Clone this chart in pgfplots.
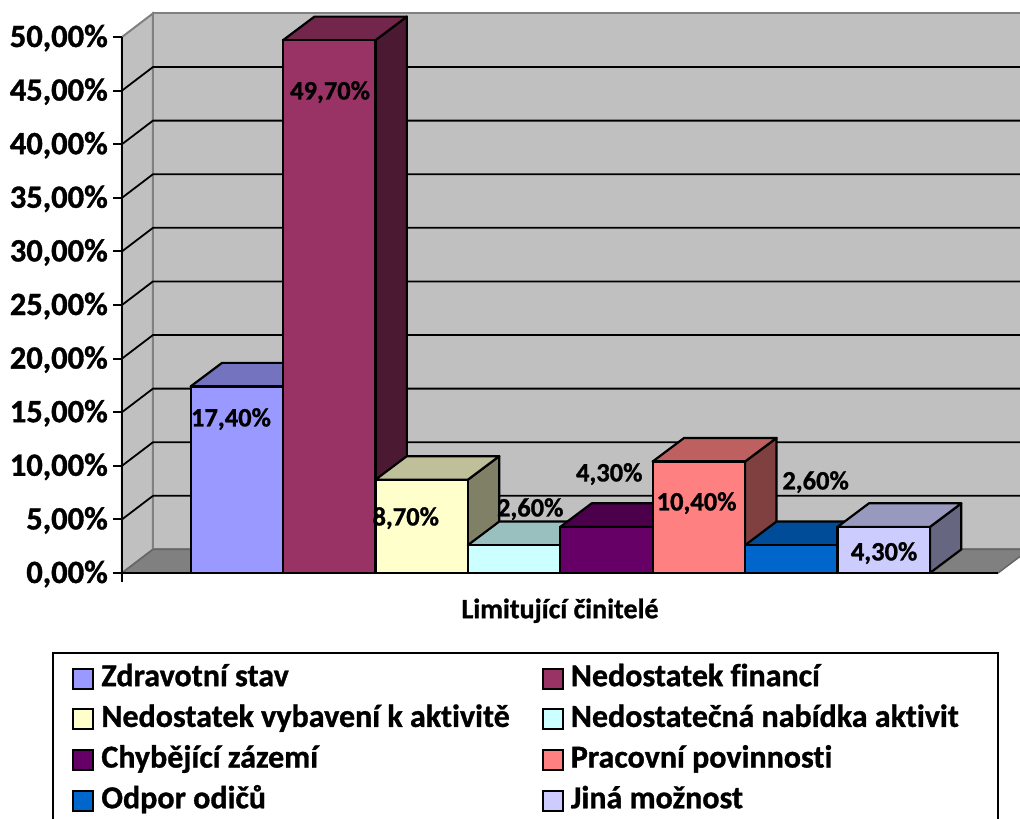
\documentclass[border=0pt]{standalone}
\usepackage{fontspec}
\setmainfont{Carlito}[Ligatures=NoCommon,BoldFeatures={FakeBold=1}]
\usepackage{pgfplots}
\pgfplotsset{compat=1.18}
\definecolor{wall}{RGB}{192,192,192}
\definecolor{floorc}{RGB}{128,128,128}
\definecolor{ca}{RGB}{153,153,255}
\definecolor{cb}{RGB}{153,51,102}
\definecolor{cc}{RGB}{255,255,204}
\definecolor{cd}{RGB}{204,255,255}
\definecolor{ce}{RGB}{102,0,102}
\definecolor{cf}{RGB}{255,128,128}
\definecolor{cg}{RGB}{0,102,204}
\definecolor{ch}{RGB}{204,204,255}
\pgfplotsset{
  frontbar/.style={ybar,bar width=92.4pt,bar shift=0pt,fill=#1,draw=black,line width=2.2pt},
  topface/.style={forget plot,fill=#1!75!black,draw=black,line width=2.2pt,line join=round},
  sideface/.style={forget plot,fill=#1!50!black,draw=black,line width=2.2pt,line join=round},
  gridl/.style={forget plot,draw=black,line width=1.8pt},
}
\begin{document}
\begin{tikzpicture}
\path[use as bounding box,clip] (0,0) rectangle (1020pt,819pt);
\begin{axis}[
  at={(122pt,246pt)},anchor=south west,
  scale only axis,width=876pt,height=536pt,
  xmin=-1.2424,xmax=8.2367,ymin=0,ymax=50,
  clip=false,axis on top,
  axis x line*=bottom,axis y line*=left,
  axis line style={line width=2pt,-},
  xtick={-1.2424},xticklabels={},
  ytick={0,5,...,50},
  tick style={black,line width=2pt},
  major tick length=9pt,
  tick align=outside,
  yticklabel={\pgfmathprintnumber[fixed,fixed zerofill,precision=2,use comma,assume math mode=true]{\tick}\%},
  tick label style={font=\fontsize{32.5}{34}\selectfont\bfseries},
  yticklabel style={inner sep=0pt,xshift=-5pt,yshift=-1pt},
  xlabel={Limitující činitelé},
  xlabel style={at={(axis description cs:0.5,-0.0705)},anchor=center,font=\fontsize{28}{30}\selectfont\bfseries},
  legend columns=2,
  legend style={at={(axis description cs:-0.0571,-0.1716)},anchor=north west,draw=none,fill=none,inner sep=0pt,
    font=\fontsize{32}{32}\selectfont\bfseries,
    nodes={inner sep=0pt,text height=21pt,text depth=6pt},
    row sep=13.7pt,
    /tikz/every odd column/.append style={column sep=7pt},
    /tikz/every even column/.append style={column sep=32pt}},
  legend cell align=left,
  legend image code/.code={\draw[#1,line width=2.2pt] (0pt,-10pt) rectangle (20pt,10pt);},
]
% walls and floor
\addplot[forget plot,fill=wall,draw=floorc,line width=2pt] coordinates {(-1.2424,0) (-0.907,2.2) (-0.907,52.2) (-1.2424,50)} --cycle;
\addplot[forget plot,fill=wall,draw=floorc,line width=2pt] coordinates {(-0.907,2.2) (9,2.2) (9,52.2) (-0.907,52.2)} --cycle;
\addplot[forget plot,fill=floorc,draw=floorc!80!black,line width=1.5pt] coordinates {(-1.2424,0) (8.2367,0) (8.5767,2.2) (-0.907,2.2)} --cycle;
% gridlines on walls
\addplot[gridl] coordinates {(-1.2424,5) (-0.907,7.2) (9,7.2)};
\addplot[gridl] coordinates {(-1.2424,10) (-0.907,12.2) (9,12.2)};
\addplot[gridl] coordinates {(-1.2424,15) (-0.907,17.2) (9,17.2)};
\addplot[gridl] coordinates {(-1.2424,20) (-0.907,22.2) (9,22.2)};
\addplot[gridl] coordinates {(-1.2424,25) (-0.907,27.2) (9,27.2)};
\addplot[gridl] coordinates {(-1.2424,30) (-0.907,32.2) (9,32.2)};
\addplot[gridl] coordinates {(-1.2424,35) (-0.907,37.2) (9,37.2)};
\addplot[gridl] coordinates {(-1.2424,40) (-0.907,42.2) (9,42.2)};
\addplot[gridl] coordinates {(-1.2424,45) (-0.907,47.2) (9,47.2)};
% bar 0
\addplot[sideface=ca] coordinates {(0.5,0) (0.5,17.4) (0.84,19.6) (0.84,2.2)} --cycle;
\addplot[topface=ca] coordinates {(-0.5,17.4) (0.5,17.4) (0.84,19.6) (-0.16,19.6)} --cycle;
\addplot[frontbar=ca] coordinates {(0,17.4)};
\addlegendentry{Zdravotní stav}
% bar 1
\addplot[sideface=cb] coordinates {(1.5,0) (1.5,49.7) (1.84,51.9) (1.84,2.2)} --cycle;
\addplot[topface=cb] coordinates {(0.5,49.7) (1.5,49.7) (1.84,51.9) (0.84,51.9)} --cycle;
\addplot[frontbar=cb] coordinates {(1,49.7)};
\addlegendentry{Nedostatek financí}
% bar 2
\addplot[sideface=cc] coordinates {(2.5,0) (2.5,8.7) (2.84,10.9) (2.84,2.2)} --cycle;
\addplot[topface=cc] coordinates {(1.5,8.7) (2.5,8.7) (2.84,10.9) (1.84,10.9)} --cycle;
\addplot[frontbar=cc] coordinates {(2,8.7)};
\addlegendentry{Nedostatek vybavení k aktivitě}
% bar 3
\addplot[sideface=cd] coordinates {(3.5,0) (3.5,2.6) (3.84,4.8) (3.84,2.2)} --cycle;
\addplot[topface=cd] coordinates {(2.5,2.6) (3.5,2.6) (3.84,4.8) (2.84,4.8)} --cycle;
\addplot[frontbar=cd] coordinates {(3,2.6)};
\addlegendentry{Nedostatečná nabídka aktivit}
% bar 4
\addplot[sideface=ce] coordinates {(4.5,0) (4.5,4.3) (4.84,6.5) (4.84,2.2)} --cycle;
\addplot[topface=ce] coordinates {(3.5,4.3) (4.5,4.3) (4.84,6.5) (3.84,6.5)} --cycle;
\addplot[frontbar=ce] coordinates {(4,4.3)};
\addlegendentry{Chybějící zázemí}
% bar 5
\addplot[sideface=cf] coordinates {(5.5,0) (5.5,10.4) (5.84,12.6) (5.84,2.2)} --cycle;
\addplot[topface=cf] coordinates {(4.5,10.4) (5.5,10.4) (5.84,12.6) (4.84,12.6)} --cycle;
\addplot[frontbar=cf] coordinates {(5,10.4)};
\addlegendentry{Pracovní povinnosti}
% bar 6
\addplot[sideface=cg] coordinates {(6.5,0) (6.5,2.6) (6.84,4.8) (6.84,2.2)} --cycle;
\addplot[topface=cg] coordinates {(5.5,2.6) (6.5,2.6) (6.84,4.8) (5.84,4.8)} --cycle;
\addplot[frontbar=cg] coordinates {(6,2.6)};
\addlegendentry{Odpor odičů}
% bar 7
\addplot[sideface=ch] coordinates {(7.5,0) (7.5,4.3) (7.84,6.5) (7.84,2.2)} --cycle;
\addplot[topface=ch] coordinates {(6.5,4.3) (7.5,4.3) (7.84,6.5) (6.84,6.5)} --cycle;
\addplot[frontbar=ch] coordinates {(7,4.3)};
\addlegendentry{Jiná možnost}
% data labels
\begin{scope}[every node/.style={font=\fontsize{26.5}{28}\selectfont\bfseries,inner sep=0pt}]
\node at (axis cs:-0.063,14.36) {17,40\%};
\node at (axis cs:1.009,44.86) {49,70\%};
\node at (axis cs:1.828,5.12) {8,70\%};
\node at (axis cs:3.175,5.96) {2,60\%};
\node at (axis cs:4.03,9.23) {4,30\%};
\node at (axis cs:4.975,6.52) {10,40\%};
\node at (axis cs:6.263,8.48) {2,60\%};
\node at (axis cs:7.004,1.86) {4,30\%};
\end{scope}
% legend frame
\draw[black,line width=2pt] (axis description cs:-0.0789,-0.15) rectangle (axis description cs:1,-0.5);
\end{axis}
\end{tikzpicture}
\end{document}
